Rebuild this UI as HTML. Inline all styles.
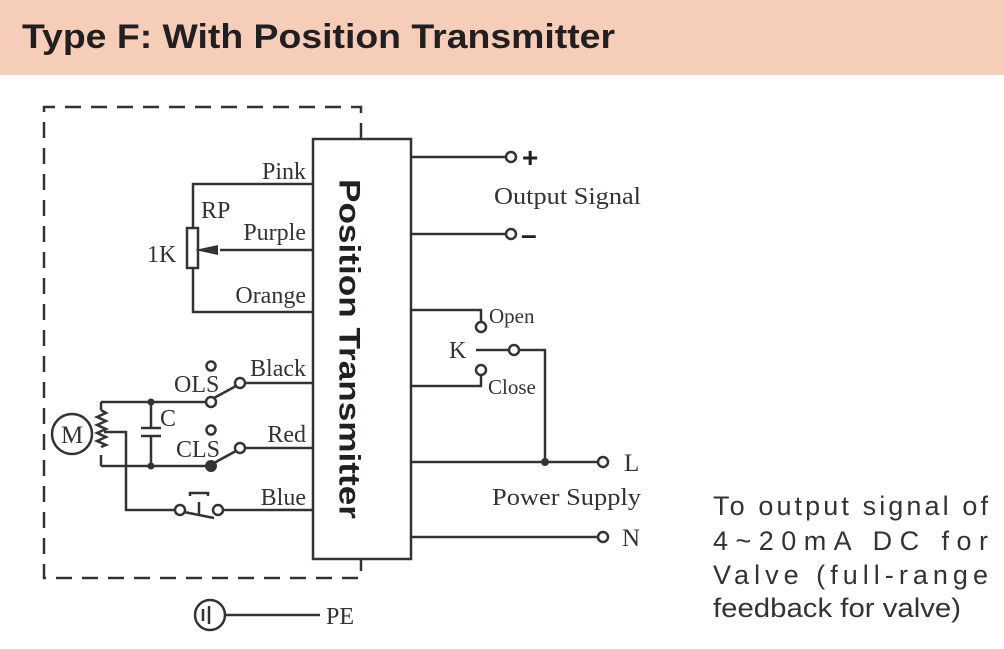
<!DOCTYPE html>
<html><head><meta charset="utf-8"><style>
html,body{margin:0;padding:0;background:#fff;}
svg{display:block;}
.s{font-family:"Liberation Serif",serif;font-size:24px;fill:#333;}
</style></head><body>
<svg width="1004" height="649" viewBox="0 0 1004 649" xmlns="http://www.w3.org/2000/svg">
<rect x="0" y="0" width="1004" height="75" fill="#f5cdb9"/>
<text x="22" y="48" font-family="Liberation Sans,sans-serif" font-weight="bold" font-size="34" fill="#231f20" textLength="593" lengthAdjust="spacingAndGlyphs">Type F: With Position Transmitter</text>
<g stroke="#333" stroke-width="2.5" fill="none">
<path d="M361 139 V107 H44 V578 H361 V559" stroke-dasharray="16,10"/>
<rect x="313" y="139" width="98" height="420"/>
<path d="M411 157 H506"/><circle cx="511" cy="157" r="5" fill="#fff"/>
<path d="M411 234 H506"/><circle cx="511" cy="234" r="5" fill="#fff"/>
<path d="M411 310 H481 V322"/><circle cx="481" cy="327" r="5" fill="#fff"/>
<path d="M476 350 H509"/><circle cx="514" cy="350" r="5" fill="#fff"/>
<path d="M519 350 H545 V462"/>
<circle cx="481" cy="370" r="5" fill="#fff"/><path d="M481 375 V386 H411"/>
<path d="M411 462 H598"/><circle cx="603" cy="462" r="5" fill="#fff"/>
<path d="M411 537 H598"/><circle cx="603" cy="537" r="5" fill="#fff"/>
<path d="M313 184 H193 V228 M193 268 V312 H313"/>
<rect x="187" y="228" width="11" height="40"/>
<path d="M313 250 H220"/>
<path d="M313 383 H245"/><circle cx="240" cy="383" r="5" fill="#fff"/>
<circle cx="211" cy="366" r="4.5" fill="#fff"/>
<circle cx="211" cy="402" r="5" fill="#fff"/>
<path d="M214 398 L236 386"/>
<path d="M313 448 H245"/><circle cx="240" cy="448" r="5" fill="#fff"/>
<circle cx="211" cy="430" r="4.5" fill="#fff"/>
<path d="M214 463 L236 451"/>
<path d="M101 402 H206 M101 466 H211"/>
<path d="M151 402 V428 M141 428 H161 M141 436 H161 M151 436 V466"/>
<path d="M101 402 V410 M101 455 V466"/>
<path d="M101 410 l5 3 -9 4 9 4 -9 4 9 4 -9 4 9 4 -9 4 9 4 -5 2"/>
<path d="M104 432 H126 V510 H175"/>
<circle cx="72" cy="434" r="20"/>
<circle cx="180" cy="510" r="5" fill="#fff"/>
<circle cx="218" cy="510" r="5" fill="#fff"/>
<path d="M184 512 L214 518 M199 502 V514 M190 496 V493 H208 V496"/>
<path d="M223 510 H313"/>
<circle cx="210" cy="615" r="15"/>
<path d="M225 615 H320 M203 609 V621 M209 606 V624"/>
</g>
<polygon points="195,250 218,245 218,255" fill="#333"/>
<circle cx="151" cy="402" r="3.5" fill="#333"/>
<circle cx="151" cy="466" r="3.5" fill="#333"/>
<circle cx="211" cy="466" r="6" fill="#333"/>
<circle cx="545" cy="462" r="4" fill="#333"/>
<text x="349" y="349" transform="rotate(90 349 349)" text-anchor="middle" dominant-baseline="central" font-family="Liberation Sans,sans-serif" font-weight="bold" font-size="30" fill="#231f20" textLength="340" lengthAdjust="spacingAndGlyphs">Position Transmitter</text>
<g class="s" text-anchor="end">
<text x="306" y="179">Pink</text>
<text x="306" y="240">Purple</text>
<text x="306" y="303">Orange</text>
<text x="306" y="376">Black</text>
<text x="306" y="442">Red</text>
<text x="306" y="505">Blue</text>
</g>
<g class="s">
<text x="201" y="218">RP</text>
<text x="147" y="262">1K</text>
<text x="174" y="392">OLS</text>
<text x="160" y="426">C</text>
<text x="176" y="457">CLS</text>
<text x="61" y="443" font-size="25">M</text>
<text x="326" y="624" font-size="24">PE</text>
<text x="494" y="204" textLength="147" lengthAdjust="spacingAndGlyphs">Output Signal</text>
<text x="489" y="323" font-size="21">Open</text>
<text x="449" y="358">K</text>
<text x="488" y="394" font-size="21">Close</text>
<text x="624" y="471" font-size="25">L</text>
<text x="492" y="505" textLength="149" lengthAdjust="spacingAndGlyphs">Power Supply</text>
<text x="622" y="546" font-size="25">N</text>
</g>
<text x="522" y="167" font-family="Liberation Sans,sans-serif" font-weight="bold" font-size="28" fill="#231f20">+</text>
<text x="521" y="244" font-family="Liberation Sans,sans-serif" font-weight="bold" font-size="28" fill="#231f20">–</text>
<g font-family="Liberation Sans,sans-serif" font-size="27" fill="#333">
<text x="713" y="515" textLength="275" lengthAdjust="spacing">To output signal of</text>
<text x="713" y="550" textLength="275" lengthAdjust="spacing">4~20mA DC for</text>
<text x="713" y="584" textLength="275" lengthAdjust="spacing">Valve (full-range</text>
<text x="713" y="617" textLength="248" lengthAdjust="spacingAndGlyphs">feedback for valve)</text>
</g>
</svg>
</body></html>
